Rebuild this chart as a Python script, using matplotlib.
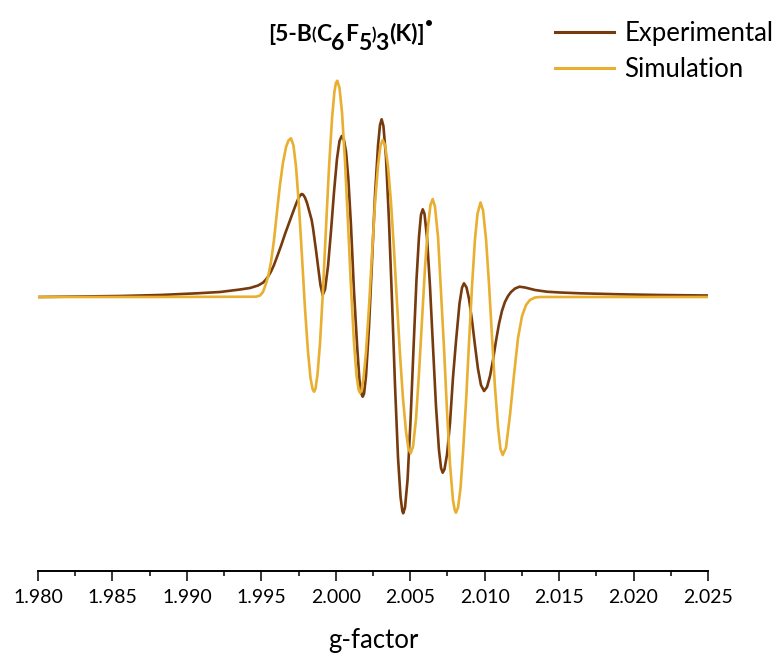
import matplotlib
matplotlib.use("Agg")
import matplotlib.pyplot as plt
from matplotlib.ticker import MultipleLocator, FormatStrFormatter

plt.rcParams['font.family'] = ['Lato', 'DejaVu Sans']

# ---- data ----
exp_g = [1.98000, 1.98282, 1.98551, 1.98819, 1.99068, 1.99222, 1.99357, 1.99424, 1.99478,
         1.99511, 1.99531, 1.99545, 1.99565, 1.99585, 1.99605, 1.99632, 1.99659, 1.99686,
         1.99713, 1.99733, 1.99750, 1.99763, 1.99771,
         1.99780, 1.99793, 1.99807, 1.99838, 1.99847, 1.99867, 1.99884, 1.99897, 1.99912,
         1.99928, 1.99948, 1.99968, 1.99988, 2.00008, 2.00025, 2.00040,
         2.00055, 2.00069, 2.00084, 2.00102, 2.00122, 2.00143, 2.00159, 2.00173, 2.00181,
         2.00190, 2.00203, 2.00223, 2.00243, 2.00263, 2.00284, 2.00297, 2.00308,
         2.00320, 2.00337, 2.00357, 2.00378, 2.00398, 2.00418, 2.00435, 2.00447, 2.00453,
         2.00465, 2.00482, 2.00502, 2.00522, 2.00542, 2.00559, 2.00572, 2.00584,
         2.00596, 2.00613, 2.00633, 2.00653, 2.00673, 2.00693, 2.00707, 2.00718,
         2.00730, 2.00747, 2.00767, 2.00787, 2.00807, 2.00831, 2.00848, 2.00861,
         2.00878, 2.00895, 2.00915, 2.00935, 2.00955, 2.00975, 2.00996,
         2.01016, 2.01036, 2.01056, 2.01076, 2.01096, 2.01116, 2.01136, 2.01157, 2.01177,
         2.01204, 2.01234, 2.01271, 2.01338, 2.01417, 2.01506, 2.01640, 2.01909, 2.02178,
         2.02500]
exp_int = [0, 0.5, 1, 2, 3.7, 5, 7.5, 9, 11.5,
           14.3, 17.5, 20.3, 25.5, 32, 40, 51, 63, 74,
           85, 93, 99, 102, 103,
           102.5, 99.5, 94, 77, 69, 47, 27, 12, 2,
           7.6, 31, 66, 104.7, 138, 156, 161,
           157, 145, 119, 72, 7, -48, -83, -97, -99.7,
           -96.6, -79, -30.5, 34.6, 100.6, 152.2, 172, 177.7,
           171, 140.2, 77, -5, -89, -160.7, -200, -214, -216.3,
           -210.5, -183, -124, -51.8, 17, 60.4, 82, 87.7,
           83, 59, 10, -50, -109, -153, -171, -175.7,
           -172.3, -157.7, -126.5, -81, -45, -6.4, 9.4, 13.7,
           9.6, -2, -23.5, -48.5, -71.8, -88, -94,
           -90, -79, -63, -44, -27, -14, -5, 1, 5,
           8.5, 10.3, 9.5, 7, 5.3, 4.5, 3.7, 2.7, 2,
           1.5]

sim_g = [1.98000, 1.98752, 1.99464, 1.99491, 1.99511, 1.99528, 1.99545, 1.99565, 1.99585,
         1.99605, 1.99625, 1.99645, 1.99666, 1.99682, 1.99699,
         1.99716, 1.99733, 1.99753, 1.99773, 1.99793, 1.99813, 1.99830, 1.99844, 1.99854,
         1.99864, 1.99877, 1.99894, 1.99914, 1.99934, 1.99954, 1.99975, 1.99991, 2.00001, 2.00010,
         2.00025, 2.00042, 2.00062, 2.00082, 2.00102, 2.00122, 2.00139, 2.00153, 2.00163,
         2.00173, 2.00186, 2.00203, 2.00223, 2.00243, 2.00263, 2.00284, 2.00300, 2.00315,
         2.00331, 2.00351, 2.00371, 2.00391, 2.00411, 2.00431, 2.00451, 2.00472, 2.00488, 2.00503,
         2.00519, 2.00539, 2.00559, 2.00579, 2.00599, 2.00619, 2.00636, 2.00651,
         2.00666, 2.00687, 2.00707, 2.00727, 2.00747, 2.00767, 2.00787, 2.00799, 2.00807,
         2.00821, 2.00838, 2.00854, 2.00875, 2.00895, 2.00915, 2.00935, 2.00952, 2.00972,
         2.00989, 2.01009, 2.01029, 2.01049, 2.01069, 2.01090, 2.01106, 2.01121,
         2.01143, 2.01170, 2.01197, 2.01224, 2.01251, 2.01278, 2.01304, 2.01338, 2.01372, 2.02500]
sim_int = [0, 0, 0.3, 1.5, 5, 12, 20, 35, 57, 85, 112, 134, 150, 156.5, 158.7,
           151.4, 130.3, 90.3, 40.6, -11, -54, -80.8, -92, -94.7,
           -91.6, -77.9, -46.5, 6.4, 68.3, 128, 179, 205.4, 214, 216.3,
           209.1, 184.4, 135.4, 74.2, 10.2, -44.8, -78.2, -92.6, -96,
           -93.2, -81.6, -55, -10, 42, 92.5, 132, 151.2, 157,
           152, 130.4, 94.3, 47.3, -5, -56.7, -100.8, -135, -151.6, -156.3,
           -149.4, -121.7, -76, -23.5, 28.6, 70, 92, 98,
           90.5, 59.7, 4, -51.3, -114, -167, -203, -213, -215.7,
           -210.7, -190.9, -156.8, -104, -45.7, 10.7, 58, 83.3, 94.5,
           86.7, 58.1, 13.2, -38.8, -89.8, -130.7, -152, -158,
           -151, -118, -78, -41, -19, -8, -3, -0.5, 0, 0]

series_labels = ["Experimental", "Simulation"]
# title pieces: (text, size, vertical shift in points)
title_parts = [("[5-B", 16.5, 0), ("(", 12, 1), ("C", 16.5, -1), ("6", 16.5, -6.5),
               ("F", 16.5, 6.5), ("5", 16.5, -6.5), (")", 12, 7.5), ("3", 16.5, -7.5),
               ("(K)]", 16.5, 6.5), ("\u2022", 10, 11)]
xlabel_text = "g-factor"

# ---- figure ----
W, H = 780, 657
fig = plt.figure(figsize=(W / 100, H / 100), dpi=100)
ax = fig.add_axes([38 / W, 86 / H, 670 / W, (571 - 60) / H])

c_exp = "#763A0D"
c_sim = "#E8AF30"
ax.plot(exp_g, exp_int, color=c_exp, lw=1.9, label=series_labels[0], solid_joinstyle='round')
ax.plot(sim_g, sim_int, color=c_sim, lw=1.9, label=series_labels[1], solid_joinstyle='round')

ax.set_xlim(1.980, 2.025)
ax.set_ylim(-274, 237)
for s in ("left", "right", "top"):
    ax.spines[s].set_visible(False)
ax.spines["bottom"].set_linewidth(1.4)
ax.set_yticks([])
ax.xaxis.set_major_locator(MultipleLocator(0.005))
ax.xaxis.set_minor_locator(MultipleLocator(0.0025))
ax.xaxis.set_major_formatter(FormatStrFormatter("%.3f"))
ax.tick_params(axis="x", which="major", direction="out", length=7, width=1.1,
               labelsize=14, pad=6, colors="black")
ax.tick_params(axis="x", which="minor", direction="out", length=3.5, width=1.1)
ax.set_xlabel(xlabel_text, fontsize=18.5, labelpad=16)

# title, built piece by piece (subscripts lowered)
prev = fig.text(268 / W, 1 - 40.7 / H, title_parts[0][0], ha="left", va="baseline",
                fontsize=title_parts[0][1], fontweight="bold")
for txt, size, dy in title_parts[1:]:
    prev = ax.annotate(txt, xy=(1, 0), xycoords=prev, xytext=(0.0, dy),
                       textcoords="offset points", ha="left", va="bottom",
                       fontsize=size, fontweight="bold", annotation_clip=False)

leg = ax.legend(loc="upper left", bbox_to_anchor=(555 / W, 1 - 21 / H),
                bbox_transform=fig.transFigure, frameon=False, fontsize=18.5,
                handlelength=2.3, handletextpad=0.4, labelspacing=0.42,
                borderaxespad=0, borderpad=0)
for line in leg.get_lines():
    line.set_linewidth(2.2)

fig.savefig("out.png", dpi=100)
